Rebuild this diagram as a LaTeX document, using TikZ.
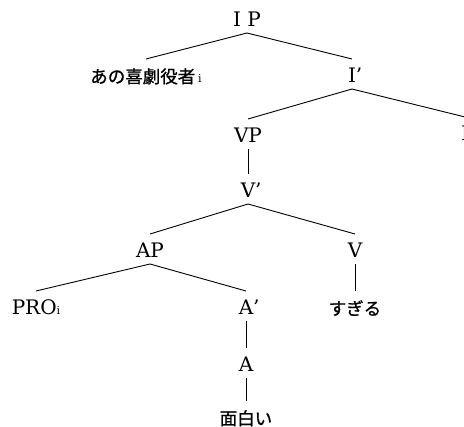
\documentclass[tikz,border=0pt]{standalone}
\usepackage{fontspec}
\setmainfont{DejaVu Serif}
\newfontfamily\jp[FakeBold=1]{Noto Sans CJK JP}
\begin{document}
\begin{tikzpicture}[x=1pt,y=-1pt,
  lab/.style={anchor=base, inner xsep=0pt, inner ysep=0pt, outer sep=0pt,
              text height=24pt, text depth=6pt, font=\fontsize{20}{20}\selectfont},
  jlab/.style={lab, font=\fontsize{17.5}{17.5}\selectfont\jp},
  br/.style={line width=0.9pt}]
\useasboundingbox (0,0) rectangle (464,427);
\newcommand{\sub}[1]{{\fontsize{11}{11}\selectfont\rmfamily #1}}
\node[lab]  (IP)   at (247,27)  {I P};
\node[jlab] (subj) at (146,83)  {あの喜劇役者\,\sub{i}};
\node[lab]  (Ib)   at (352,83)  {I\rlap{’}};
\node[lab]  (VP)   at (248,143) {VP};
\node[lab]  (I)    at (465,141) {I};
\node[lab]  (Vb)   at (248,198) {V\rlap{’}};
\node[lab]  (AP)   at (150,258) {AP};
\node[lab]  (V)    at (355,258) {V};
\node[lab]  (PRO)  at (36,315)  {PRO\sub{i}};
\node[lab]  (Ab)   at (246,315) {A\rlap{’}};
\node[jlab] (sugiru) at (355,315) {すぎる};
\node[lab]  (A)    at (246,372) {A};
\node[jlab] (omoshiroi) at (246,425) {面白い};
\draw[br] (IP.south) -- (subj.north);
\draw[br] (IP.south) -- (Ib.north);
\draw[br] (Ib.south) -- (VP.north);
\draw[br] (Ib.south) -- (I.north);
\draw[br] (VP.south) -- (Vb.north);
\draw[br] (Vb.south) -- (AP.north);
\draw[br] (Vb.south) -- (V.north);
\draw[br] (AP.south) -- (PRO.north);
\draw[br] (AP.south) -- (Ab.north);
\draw[br] (V.south) -- (sugiru.north);
\draw[br] (Ab.south) -- (A.north);
\draw[br] (A.south) -- (omoshiroi.north);
\end{tikzpicture}
\end{document}
